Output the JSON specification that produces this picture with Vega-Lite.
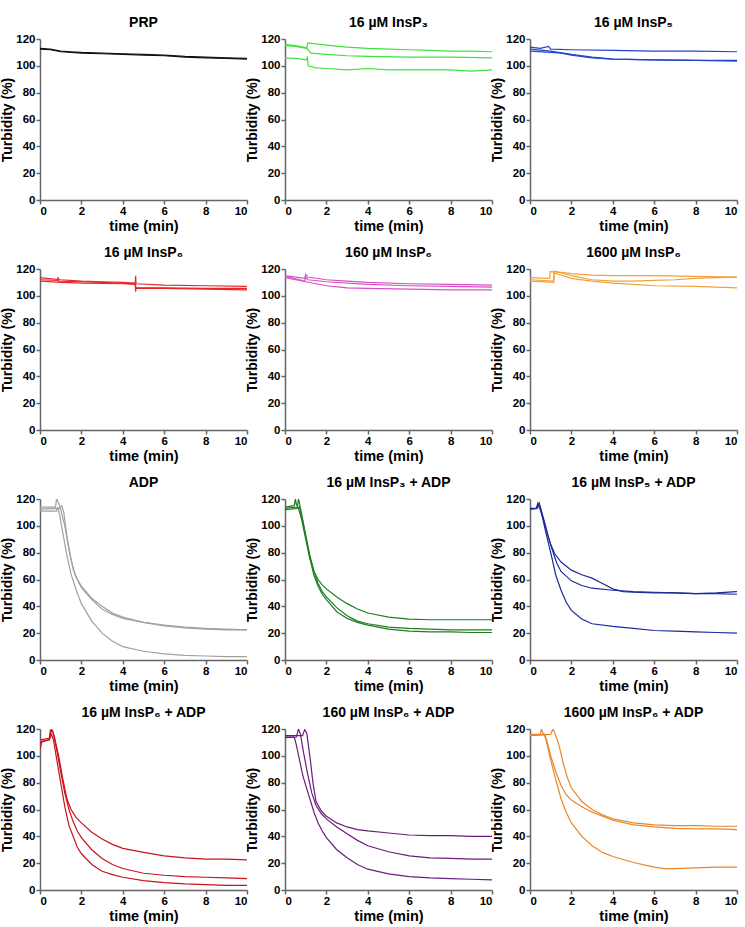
{
"$schema": "https://vega.github.io/schema/vega-lite/v6.json",
"padding": {"left": 0, "top": 16, "right": 5, "bottom": 3},
"bounds": "flush",
"data": {"values": [
{"p":0,"r":1,"t":0,"y":113},{"p":0,"r":1,"t":0.5,"y":112.5},{"p":0,"r":1,"t":1,"y":111},{"p":0,"r":1,"t":1.5,"y":110.5},{"p":0,"r":1,"t":2,"y":110},{"p":0,"r":1,"t":3,"y":109.5},{"p":0,"r":1,"t":4,"y":109},{"p":0,"r":1,"t":5,"y":108.5},{"p":0,"r":1,"t":6,"y":108},{"p":0,"r":1,"t":7,"y":107},{"p":0,"r":1,"t":8,"y":106.5},{"p":0,"r":1,"t":9,"y":106},{"p":0,"r":1,"t":10,"y":105.5},
{"p":0,"r":2,"t":0,"y":112.5},{"p":0,"r":2,"t":0.5,"y":112},{"p":0,"r":2,"t":1,"y":110.5},{"p":0,"r":2,"t":2,"y":109.5},{"p":0,"r":2,"t":3,"y":109},{"p":0,"r":2,"t":4,"y":108.5},{"p":0,"r":2,"t":5,"y":108},{"p":0,"r":2,"t":6,"y":107.5},{"p":0,"r":2,"t":7,"y":106.5},{"p":0,"r":2,"t":8,"y":106},{"p":0,"r":2,"t":9,"y":105.5},{"p":0,"r":2,"t":10,"y":105},

{"p":1,"r":1,"t":0,"y":116},{"p":1,"r":1,"t":0.5,"y":115},{"p":1,"r":1,"t":1.05,"y":113.5},{"p":1,"r":1,"t":1.1,"y":117},{"p":1,"r":1,"t":2,"y":115.5},{"p":1,"r":1,"t":3,"y":114},{"p":1,"r":1,"t":4,"y":113},{"p":1,"r":1,"t":5,"y":112.5},{"p":1,"r":1,"t":6,"y":112},{"p":1,"r":1,"t":7,"y":111.5},{"p":1,"r":1,"t":8,"y":111},{"p":1,"r":1,"t":9,"y":111},{"p":1,"r":1,"t":10,"y":110.5},
{"p":1,"r":2,"t":0,"y":115},{"p":1,"r":2,"t":0.5,"y":114.5},{"p":1,"r":2,"t":1.05,"y":113},{"p":1,"r":2,"t":1.25,"y":109.5},{"p":1,"r":2,"t":2,"y":108.5},{"p":1,"r":2,"t":3,"y":107.5},{"p":1,"r":2,"t":4,"y":107},{"p":1,"r":2,"t":6,"y":106.5},{"p":1,"r":2,"t":8,"y":106.5},{"p":1,"r":2,"t":10,"y":106},
{"p":1,"r":3,"t":0,"y":106},{"p":1,"r":3,"t":0.5,"y":105.5},{"p":1,"r":3,"t":1.05,"y":104.5},{"p":1,"r":3,"t":1.08,"y":107},{"p":1,"r":3,"t":1.12,"y":100},{"p":1,"r":3,"t":1.5,"y":98.5},{"p":1,"r":3,"t":2,"y":98},{"p":1,"r":3,"t":3,"y":97},{"p":1,"r":3,"t":4,"y":98},{"p":1,"r":3,"t":5,"y":97},{"p":1,"r":3,"t":6,"y":97},{"p":1,"r":3,"t":7,"y":97},{"p":1,"r":3,"t":8,"y":97},{"p":1,"r":3,"t":9,"y":96},{"p":1,"r":3,"t":10,"y":97},

{"p":2,"r":1,"t":0,"y":114},{"p":2,"r":1,"t":0.5,"y":113},{"p":2,"r":1,"t":0.9,"y":114.5},{"p":2,"r":1,"t":1,"y":112.5},{"p":2,"r":1,"t":2,"y":112},{"p":2,"r":1,"t":4,"y":111.5},{"p":2,"r":1,"t":6,"y":111},{"p":2,"r":1,"t":8,"y":111},{"p":2,"r":1,"t":10,"y":110.5},
{"p":2,"r":2,"t":0,"y":112.5},{"p":2,"r":2,"t":1,"y":111},{"p":2,"r":2,"t":2,"y":108.5},{"p":2,"r":2,"t":3,"y":106.5},{"p":2,"r":2,"t":4,"y":105},{"p":2,"r":2,"t":6,"y":104.5},{"p":2,"r":2,"t":8,"y":104},{"p":2,"r":2,"t":10,"y":104},
{"p":2,"r":3,"t":0,"y":111},{"p":2,"r":3,"t":1,"y":110},{"p":2,"r":3,"t":1.5,"y":109.5},{"p":2,"r":3,"t":2,"y":108},{"p":2,"r":3,"t":3,"y":106},{"p":2,"r":3,"t":4,"y":105},{"p":2,"r":3,"t":6,"y":104.5},{"p":2,"r":3,"t":8,"y":104},{"p":2,"r":3,"t":10,"y":103.5},

{"p":3,"r":1,"t":0,"y":113.5},{"p":3,"r":1,"t":1,"y":112},{"p":3,"r":1,"t":2,"y":111},{"p":3,"r":1,"t":3,"y":110.5},{"p":3,"r":1,"t":4,"y":110},{"p":3,"r":1,"t":4.6,"y":109.5},{"p":3,"r":1,"t":4.62,"y":115},{"p":3,"r":1,"t":4.64,"y":109},{"p":3,"r":1,"t":6,"y":108},{"p":3,"r":1,"t":8,"y":107.5},{"p":3,"r":1,"t":10,"y":107},
{"p":3,"r":2,"t":0,"y":112},{"p":3,"r":2,"t":0.85,"y":111.5},{"p":3,"r":2,"t":0.87,"y":114},{"p":3,"r":2,"t":0.9,"y":111},{"p":3,"r":2,"t":2,"y":110.5},{"p":3,"r":2,"t":4,"y":109.5},{"p":3,"r":2,"t":4.6,"y":109},{"p":3,"r":2,"t":4.62,"y":103},{"p":3,"r":2,"t":4.64,"y":106},{"p":3,"r":2,"t":6,"y":106},{"p":3,"r":2,"t":8,"y":105.5},{"p":3,"r":2,"t":10,"y":105.5},
{"p":3,"r":3,"t":0,"y":111},{"p":3,"r":3,"t":1,"y":110},{"p":3,"r":3,"t":2,"y":109.5},{"p":3,"r":3,"t":4,"y":109},{"p":3,"r":3,"t":4.6,"y":108.5},{"p":3,"r":3,"t":4.65,"y":105.5},{"p":3,"r":3,"t":6,"y":105.5},{"p":3,"r":3,"t":8,"y":105},{"p":3,"r":3,"t":10,"y":104.5},

{"p":4,"r":1,"t":0,"y":115},{"p":4,"r":1,"t":0.95,"y":113},{"p":4,"r":1,"t":1,"y":116},{"p":4,"r":1,"t":1.1,"y":114},{"p":4,"r":1,"t":2,"y":112},{"p":4,"r":1,"t":3,"y":111},{"p":4,"r":1,"t":4,"y":110},{"p":4,"r":1,"t":6,"y":109},{"p":4,"r":1,"t":8,"y":108.5},{"p":4,"r":1,"t":10,"y":108},
{"p":4,"r":2,"t":0,"y":114.5},{"p":4,"r":2,"t":0.95,"y":111},{"p":4,"r":2,"t":1,"y":114},{"p":4,"r":2,"t":1.1,"y":112},{"p":4,"r":2,"t":2,"y":110.5},{"p":4,"r":2,"t":4,"y":108.5},{"p":4,"r":2,"t":6,"y":107.5},{"p":4,"r":2,"t":8,"y":107},{"p":4,"r":2,"t":10,"y":106.5},
{"p":4,"r":3,"t":0,"y":113.5},{"p":4,"r":3,"t":1,"y":110.5},{"p":4,"r":3,"t":2,"y":107.5},{"p":4,"r":3,"t":3,"y":106},{"p":4,"r":3,"t":4,"y":105.5},{"p":4,"r":3,"t":6,"y":105},{"p":4,"r":3,"t":8,"y":104.5},{"p":4,"r":3,"t":10,"y":104.5},

{"p":5,"r":1,"t":0,"y":113.5},{"p":5,"r":1,"t":0.95,"y":113},{"p":5,"r":1,"t":0.97,"y":118},{"p":5,"r":1,"t":1.5,"y":117.5},{"p":5,"r":1,"t":2,"y":116.5},{"p":5,"r":1,"t":3,"y":115.5},{"p":5,"r":1,"t":4,"y":115},{"p":5,"r":1,"t":6,"y":115},{"p":5,"r":1,"t":8,"y":114.5},{"p":5,"r":1,"t":10,"y":114},
{"p":5,"r":2,"t":0,"y":112},{"p":5,"r":2,"t":1.15,"y":111},{"p":5,"r":2,"t":1.17,"y":118.5},{"p":5,"r":2,"t":2,"y":115},{"p":5,"r":2,"t":3,"y":112},{"p":5,"r":2,"t":4,"y":111},{"p":5,"r":2,"t":5,"y":111},{"p":5,"r":2,"t":6,"y":111.5},{"p":5,"r":2,"t":7,"y":112},{"p":5,"r":2,"t":8,"y":113},{"p":5,"r":2,"t":9,"y":113.5},{"p":5,"r":2,"t":10,"y":114},
{"p":5,"r":3,"t":0,"y":111},{"p":5,"r":3,"t":1.15,"y":110},{"p":5,"r":3,"t":1.17,"y":117},{"p":5,"r":3,"t":2,"y":113},{"p":5,"r":3,"t":3,"y":111},{"p":5,"r":3,"t":4,"y":109.5},{"p":5,"r":3,"t":5,"y":108.5},{"p":5,"r":3,"t":6,"y":107.5},{"p":5,"r":3,"t":8,"y":107},{"p":5,"r":3,"t":10,"y":106},

{"p":6,"r":1,"t":0,"y":114},{"p":6,"r":1,"t":0.75,"y":114},{"p":6,"r":1,"t":0.8,"y":120},{"p":6,"r":1,"t":0.9,"y":117},{"p":6,"r":1,"t":1,"y":112},{"p":6,"r":1,"t":1.2,"y":100},{"p":6,"r":1,"t":1.4,"y":82},{"p":6,"r":1,"t":1.6,"y":68},{"p":6,"r":1,"t":1.8,"y":60},{"p":6,"r":1,"t":2,"y":54},{"p":6,"r":1,"t":2.5,"y":45},{"p":6,"r":1,"t":3,"y":38},{"p":6,"r":1,"t":3.5,"y":34},{"p":6,"r":1,"t":4,"y":31},{"p":6,"r":1,"t":5,"y":28},{"p":6,"r":1,"t":6,"y":26},{"p":6,"r":1,"t":7,"y":24.5},{"p":6,"r":1,"t":8,"y":23.5},{"p":6,"r":1,"t":9,"y":23},{"p":6,"r":1,"t":10,"y":22.5},
{"p":6,"r":2,"t":0,"y":112.5},{"p":6,"r":2,"t":0.95,"y":113},{"p":6,"r":2,"t":1.05,"y":115},{"p":6,"r":2,"t":1.15,"y":110},{"p":6,"r":2,"t":1.3,"y":92},{"p":6,"r":2,"t":1.5,"y":75},{"p":6,"r":2,"t":1.7,"y":63},{"p":6,"r":2,"t":2,"y":55},{"p":6,"r":2,"t":2.5,"y":46},{"p":6,"r":2,"t":3,"y":40},{"p":6,"r":2,"t":3.5,"y":35},{"p":6,"r":2,"t":4,"y":32},{"p":6,"r":2,"t":5,"y":28},{"p":6,"r":2,"t":6,"y":25.5},{"p":6,"r":2,"t":7,"y":24},{"p":6,"r":2,"t":8,"y":23},{"p":6,"r":2,"t":9,"y":22.5},{"p":6,"r":2,"t":10,"y":22.5},
{"p":6,"r":3,"t":0,"y":111},{"p":6,"r":3,"t":0.8,"y":111},{"p":6,"r":3,"t":0.85,"y":114},{"p":6,"r":3,"t":0.95,"y":108},{"p":6,"r":3,"t":1.1,"y":95},{"p":6,"r":3,"t":1.3,"y":78},{"p":6,"r":3,"t":1.5,"y":64},{"p":6,"r":3,"t":1.75,"y":52},{"p":6,"r":3,"t":2,"y":42},{"p":6,"r":3,"t":2.5,"y":29},{"p":6,"r":3,"t":3,"y":20},{"p":6,"r":3,"t":3.5,"y":14},{"p":6,"r":3,"t":4,"y":10},{"p":6,"r":3,"t":5,"y":6.5},{"p":6,"r":3,"t":6,"y":4.5},{"p":6,"r":3,"t":7,"y":3.5},{"p":6,"r":3,"t":8,"y":3},{"p":6,"r":3,"t":9,"y":2.5},{"p":6,"r":3,"t":10,"y":2.5},

{"p":7,"r":1,"t":0,"y":114},{"p":7,"r":1,"t":0.45,"y":115},{"p":7,"r":1,"t":0.5,"y":120},{"p":7,"r":1,"t":0.55,"y":116},{"p":7,"r":1,"t":0.65,"y":113},{"p":7,"r":1,"t":0.8,"y":105},{"p":7,"r":1,"t":1,"y":90},{"p":7,"r":1,"t":1.2,"y":76},{"p":7,"r":1,"t":1.4,"y":66},{"p":7,"r":1,"t":1.6,"y":60},{"p":7,"r":1,"t":1.8,"y":56},{"p":7,"r":1,"t":2,"y":53},{"p":7,"r":1,"t":2.5,"y":47},{"p":7,"r":1,"t":3,"y":42},{"p":7,"r":1,"t":3.5,"y":38},{"p":7,"r":1,"t":4,"y":35},{"p":7,"r":1,"t":5,"y":32},{"p":7,"r":1,"t":6,"y":30.5},{"p":7,"r":1,"t":7,"y":30},{"p":7,"r":1,"t":8,"y":30},{"p":7,"r":1,"t":9,"y":30},{"p":7,"r":1,"t":10,"y":30},
{"p":7,"r":2,"t":0,"y":113},{"p":7,"r":2,"t":0.6,"y":114},{"p":7,"r":2,"t":0.65,"y":120},{"p":7,"r":2,"t":0.7,"y":117},{"p":7,"r":2,"t":0.85,"y":105},{"p":7,"r":2,"t":1,"y":93},{"p":7,"r":2,"t":1.2,"y":78},{"p":7,"r":2,"t":1.4,"y":66},{"p":7,"r":2,"t":1.6,"y":57},{"p":7,"r":2,"t":1.8,"y":51},{"p":7,"r":2,"t":2,"y":47},{"p":7,"r":2,"t":2.5,"y":39},{"p":7,"r":2,"t":3,"y":33},{"p":7,"r":2,"t":3.5,"y":29},{"p":7,"r":2,"t":4,"y":27},{"p":7,"r":2,"t":5,"y":24.5},{"p":7,"r":2,"t":6,"y":23.5},{"p":7,"r":2,"t":7,"y":23},{"p":7,"r":2,"t":8,"y":22.5},{"p":7,"r":2,"t":9,"y":22.5},{"p":7,"r":2,"t":10,"y":22.5},
{"p":7,"r":3,"t":0,"y":112},{"p":7,"r":3,"t":0.6,"y":113},{"p":7,"r":3,"t":0.7,"y":114},{"p":7,"r":3,"t":0.85,"y":104},{"p":7,"r":3,"t":1,"y":92},{"p":7,"r":3,"t":1.2,"y":76},{"p":7,"r":3,"t":1.4,"y":63},{"p":7,"r":3,"t":1.6,"y":55},{"p":7,"r":3,"t":1.8,"y":49},{"p":7,"r":3,"t":2,"y":45},{"p":7,"r":3,"t":2.5,"y":36},{"p":7,"r":3,"t":3,"y":31},{"p":7,"r":3,"t":3.5,"y":28},{"p":7,"r":3,"t":4,"y":26},{"p":7,"r":3,"t":5,"y":23},{"p":7,"r":3,"t":6,"y":21.5},{"p":7,"r":3,"t":7,"y":21},{"p":7,"r":3,"t":8,"y":21},{"p":7,"r":3,"t":9,"y":20.5},{"p":7,"r":3,"t":10,"y":20.5},

{"p":8,"r":1,"t":0,"y":113},{"p":8,"r":1,"t":0.3,"y":113},{"p":8,"r":1,"t":0.38,"y":117},{"p":8,"r":1,"t":0.45,"y":114},{"p":8,"r":1,"t":0.6,"y":107},{"p":8,"r":1,"t":0.8,"y":96},{"p":8,"r":1,"t":1,"y":86},{"p":8,"r":1,"t":1.2,"y":79},{"p":8,"r":1,"t":1.5,"y":73},{"p":8,"r":1,"t":2,"y":67},{"p":8,"r":1,"t":2.5,"y":63.5},{"p":8,"r":1,"t":3,"y":61},{"p":8,"r":1,"t":3.5,"y":57},{"p":8,"r":1,"t":4,"y":53},{"p":8,"r":1,"t":4.5,"y":51},{"p":8,"r":1,"t":5,"y":50.5},{"p":8,"r":1,"t":6,"y":50},{"p":8,"r":1,"t":7,"y":50},{"p":8,"r":1,"t":8,"y":49.5},{"p":8,"r":1,"t":9,"y":50},{"p":8,"r":1,"t":10,"y":51},
{"p":8,"r":2,"t":0,"y":112.5},{"p":8,"r":2,"t":0.3,"y":113},{"p":8,"r":2,"t":0.42,"y":116},{"p":8,"r":2,"t":0.5,"y":114},{"p":8,"r":2,"t":0.7,"y":103},{"p":8,"r":2,"t":0.9,"y":91},{"p":8,"r":2,"t":1.1,"y":81},{"p":8,"r":2,"t":1.3,"y":72},{"p":8,"r":2,"t":1.5,"y":66},{"p":8,"r":2,"t":2,"y":59},{"p":8,"r":2,"t":2.5,"y":55.5},{"p":8,"r":2,"t":3,"y":53.5},{"p":8,"r":2,"t":4,"y":52},{"p":8,"r":2,"t":5,"y":51},{"p":8,"r":2,"t":6,"y":50.5},{"p":8,"r":2,"t":7,"y":50},{"p":8,"r":2,"t":8,"y":49.5},{"p":8,"r":2,"t":9,"y":49.5},{"p":8,"r":2,"t":10,"y":49},
{"p":8,"r":3,"t":0,"y":112.5},{"p":8,"r":3,"t":0.35,"y":113},{"p":8,"r":3,"t":0.45,"y":117},{"p":8,"r":3,"t":0.55,"y":110},{"p":8,"r":3,"t":0.75,"y":96},{"p":8,"r":3,"t":1,"y":80},{"p":8,"r":3,"t":1.25,"y":63},{"p":8,"r":3,"t":1.5,"y":52},{"p":8,"r":3,"t":1.75,"y":43},{"p":8,"r":3,"t":2,"y":37},{"p":8,"r":3,"t":2.5,"y":30.5},{"p":8,"r":3,"t":3,"y":27},{"p":8,"r":3,"t":4,"y":25},{"p":8,"r":3,"t":5,"y":23.5},{"p":8,"r":3,"t":6,"y":22},{"p":8,"r":3,"t":7,"y":21.5},{"p":8,"r":3,"t":8,"y":21},{"p":8,"r":3,"t":9,"y":20.5},{"p":8,"r":3,"t":10,"y":20},

{"p":9,"r":1,"t":0,"y":112},{"p":9,"r":1,"t":0.45,"y":113},{"p":9,"r":1,"t":0.5,"y":119},{"p":9,"r":1,"t":0.6,"y":119},{"p":9,"r":1,"t":0.7,"y":114},{"p":9,"r":1,"t":0.9,"y":100},{"p":9,"r":1,"t":1.1,"y":83},{"p":9,"r":1,"t":1.3,"y":68},{"p":9,"r":1,"t":1.5,"y":60},{"p":9,"r":1,"t":1.75,"y":54},{"p":9,"r":1,"t":2,"y":50},{"p":9,"r":1,"t":2.5,"y":43},{"p":9,"r":1,"t":3,"y":38},{"p":9,"r":1,"t":3.5,"y":34},{"p":9,"r":1,"t":4,"y":31},{"p":9,"r":1,"t":5,"y":28},{"p":9,"r":1,"t":6,"y":25.5},{"p":9,"r":1,"t":7,"y":24},{"p":9,"r":1,"t":8,"y":23},{"p":9,"r":1,"t":9,"y":23},{"p":9,"r":1,"t":10,"y":22.5},
{"p":9,"r":2,"t":0,"y":110},{"p":9,"r":2,"t":0.45,"y":112},{"p":9,"r":2,"t":0.55,"y":120},{"p":9,"r":2,"t":0.65,"y":116},{"p":9,"r":2,"t":0.8,"y":105},{"p":9,"r":2,"t":1,"y":88},{"p":9,"r":2,"t":1.2,"y":72},{"p":9,"r":2,"t":1.4,"y":60},{"p":9,"r":2,"t":1.6,"y":51},{"p":9,"r":2,"t":1.8,"y":44},{"p":9,"r":2,"t":2,"y":39},{"p":9,"r":2,"t":2.5,"y":30},{"p":9,"r":2,"t":3,"y":23.5},{"p":9,"r":2,"t":3.5,"y":19},{"p":9,"r":2,"t":4,"y":16},{"p":9,"r":2,"t":5,"y":12.5},{"p":9,"r":2,"t":6,"y":11},{"p":9,"r":2,"t":7,"y":10},{"p":9,"r":2,"t":8,"y":9.5},{"p":9,"r":2,"t":9,"y":9},{"p":9,"r":2,"t":10,"y":8.5},
{"p":9,"r":3,"t":0,"y":105},{"p":9,"r":3,"t":0.1,"y":111},{"p":9,"r":3,"t":0.45,"y":112},{"p":9,"r":3,"t":0.55,"y":116},{"p":9,"r":3,"t":0.65,"y":112},{"p":9,"r":3,"t":0.8,"y":98},{"p":9,"r":3,"t":1,"y":80},{"p":9,"r":3,"t":1.2,"y":62},{"p":9,"r":3,"t":1.4,"y":48},{"p":9,"r":3,"t":1.6,"y":40},{"p":9,"r":3,"t":1.8,"y":32},{"p":9,"r":3,"t":2,"y":27},{"p":9,"r":3,"t":2.5,"y":19},{"p":9,"r":3,"t":3,"y":14},{"p":9,"r":3,"t":3.5,"y":11.5},{"p":9,"r":3,"t":4,"y":9.5},{"p":9,"r":3,"t":5,"y":7},{"p":9,"r":3,"t":6,"y":5.5},{"p":9,"r":3,"t":7,"y":4.5},{"p":9,"r":3,"t":8,"y":4},{"p":9,"r":3,"t":9,"y":3.5},{"p":9,"r":3,"t":10,"y":3.5},

{"p":10,"r":1,"t":0,"y":115},{"p":10,"r":1,"t":0.85,"y":115},{"p":10,"r":1,"t":0.95,"y":119.5},{"p":10,"r":1,"t":1.05,"y":117},{"p":10,"r":1,"t":1.2,"y":100},{"p":10,"r":1,"t":1.35,"y":80},{"p":10,"r":1,"t":1.5,"y":66},{"p":10,"r":1,"t":1.75,"y":59},{"p":10,"r":1,"t":2,"y":55},{"p":10,"r":1,"t":2.5,"y":50},{"p":10,"r":1,"t":3,"y":47},{"p":10,"r":1,"t":3.5,"y":45},{"p":10,"r":1,"t":4,"y":44},{"p":10,"r":1,"t":5,"y":42.5},{"p":10,"r":1,"t":6,"y":41},{"p":10,"r":1,"t":7,"y":40.5},{"p":10,"r":1,"t":8,"y":40.5},{"p":10,"r":1,"t":9,"y":40},{"p":10,"r":1,"t":10,"y":40},
{"p":10,"r":2,"t":0,"y":113.5},{"p":10,"r":2,"t":0.55,"y":114},{"p":10,"r":2,"t":0.65,"y":120},{"p":10,"r":2,"t":0.75,"y":116},{"p":10,"r":2,"t":0.9,"y":102},{"p":10,"r":2,"t":1.1,"y":86},{"p":10,"r":2,"t":1.3,"y":72},{"p":10,"r":2,"t":1.5,"y":63},{"p":10,"r":2,"t":1.75,"y":57},{"p":10,"r":2,"t":2,"y":53},{"p":10,"r":2,"t":2.5,"y":47},{"p":10,"r":2,"t":3,"y":42},{"p":10,"r":2,"t":3.5,"y":37},{"p":10,"r":2,"t":4,"y":33},{"p":10,"r":2,"t":5,"y":28.5},{"p":10,"r":2,"t":6,"y":25.5},{"p":10,"r":2,"t":7,"y":24},{"p":10,"r":2,"t":8,"y":23.5},{"p":10,"r":2,"t":9,"y":23},{"p":10,"r":2,"t":10,"y":23},
{"p":10,"r":3,"t":0,"y":114},{"p":10,"r":3,"t":0.45,"y":114},{"p":10,"r":3,"t":0.55,"y":108},{"p":10,"r":3,"t":0.7,"y":97},{"p":10,"r":3,"t":0.85,"y":86},{"p":10,"r":3,"t":1,"y":78},{"p":10,"r":3,"t":1.2,"y":68},{"p":10,"r":3,"t":1.4,"y":58},{"p":10,"r":3,"t":1.6,"y":50},{"p":10,"r":3,"t":1.8,"y":44},{"p":10,"r":3,"t":2,"y":39},{"p":10,"r":3,"t":2.5,"y":30},{"p":10,"r":3,"t":3,"y":24},{"p":10,"r":3,"t":3.5,"y":19},{"p":10,"r":3,"t":4,"y":15.5},{"p":10,"r":3,"t":5,"y":12},{"p":10,"r":3,"t":6,"y":10},{"p":10,"r":3,"t":7,"y":9},{"p":10,"r":3,"t":8,"y":8.5},{"p":10,"r":3,"t":9,"y":8},{"p":10,"r":3,"t":10,"y":7.5},

{"p":11,"r":1,"t":0,"y":115},{"p":11,"r":1,"t":1,"y":116},{"p":11,"r":1,"t":1.1,"y":120},{"p":11,"r":1,"t":1.2,"y":117},{"p":11,"r":1,"t":1.4,"y":108},{"p":11,"r":1,"t":1.6,"y":95},{"p":11,"r":1,"t":1.8,"y":84},{"p":11,"r":1,"t":2,"y":76},{"p":11,"r":1,"t":2.5,"y":66},{"p":11,"r":1,"t":3,"y":60},{"p":11,"r":1,"t":3.5,"y":56},{"p":11,"r":1,"t":4,"y":53},{"p":11,"r":1,"t":5,"y":50},{"p":11,"r":1,"t":6,"y":48.5},{"p":11,"r":1,"t":7,"y":48},{"p":11,"r":1,"t":8,"y":48},{"p":11,"r":1,"t":9,"y":47.5},{"p":11,"r":1,"t":10,"y":47.5},
{"p":11,"r":2,"t":0,"y":116},{"p":11,"r":2,"t":0.5,"y":116},{"p":11,"r":2,"t":0.55,"y":120},{"p":11,"r":2,"t":0.62,"y":117},{"p":11,"r":2,"t":0.7,"y":116},{"p":11,"r":2,"t":0.8,"y":112},{"p":11,"r":2,"t":1,"y":100},{"p":11,"r":2,"t":1.25,"y":88},{"p":11,"r":2,"t":1.5,"y":78},{"p":11,"r":2,"t":1.75,"y":71},{"p":11,"r":2,"t":2,"y":67},{"p":11,"r":2,"t":2.5,"y":62},{"p":11,"r":2,"t":3,"y":58},{"p":11,"r":2,"t":3.5,"y":55},{"p":11,"r":2,"t":4,"y":52},{"p":11,"r":2,"t":5,"y":48.5},{"p":11,"r":2,"t":6,"y":47},{"p":11,"r":2,"t":7,"y":46},{"p":11,"r":2,"t":8,"y":45.5},{"p":11,"r":2,"t":9,"y":45.5},{"p":11,"r":2,"t":10,"y":45},
{"p":11,"r":3,"t":0,"y":115},{"p":11,"r":3,"t":0.7,"y":116},{"p":11,"r":3,"t":0.8,"y":110},{"p":11,"r":3,"t":1,"y":97},{"p":11,"r":3,"t":1.25,"y":82},{"p":11,"r":3,"t":1.5,"y":68},{"p":11,"r":3,"t":1.75,"y":58},{"p":11,"r":3,"t":2,"y":50},{"p":11,"r":3,"t":2.5,"y":40},{"p":11,"r":3,"t":3,"y":33},{"p":11,"r":3,"t":3.5,"y":28},{"p":11,"r":3,"t":4,"y":25},{"p":11,"r":3,"t":5,"y":20.5},{"p":11,"r":3,"t":6,"y":17},{"p":11,"r":3,"t":6.5,"y":16},{"p":11,"r":3,"t":7,"y":16},{"p":11,"r":3,"t":8,"y":16.5},{"p":11,"r":3,"t":9,"y":17},{"p":11,"r":3,"t":10,"y":17}
]},
"facet": {"field": "p", "type": "ordinal", "sort": "ascending",
  "header": {"title": null, "labelExpr": "['PRP','16 µM InsP₃','16 µM InsP₅','16 µM InsP₆','160 µM InsP₆','1600 µM InsP₆','ADP','16 µM InsP₃ + ADP','16 µM InsP₅ + ADP','16 µM InsP₆ + ADP','160 µM InsP₆ + ADP','1600 µM InsP₆ + ADP'][datum.value]",
    "labelFont": "Liberation Sans", "labelFontSize": 14, "labelFontWeight": "bold", "labelColor": "#000", "labelPadding": 3}},
"columns": 3,
"spacing": {"row": 69, "column": 38},
"resolve": {"axis": {"x": "independent", "y": "independent"}},
"spec": {
  "width": 207, "height": 161,
  "mark": {"type": "line", "strokeWidth": 1.2, "clip": true},
  "encoding": {
    "x": {"field": "t", "type": "quantitative", "scale": {"domain": [0, 10], "nice": false}, "axis": {"values": [0,2,4,6,8,10], "title": "time (min)", "titlePadding": 3, "titleFontSize": 14.5}},
    "y": {"field": "y", "type": "quantitative", "scale": {"domain": [0, 120], "nice": false}, "axis": {"values": [0,20,40,60,80,100,120], "title": "Turbidity (%)"}},
    "color": {"field": "p", "type": "nominal", "legend": null, "scale": {"domain": [0,1,2,3,4,5,6,7,8,9,10,11], "range": ["#111111","#3fe03f","#2244cc","#e8262a","#d94fc6","#f2a13a","#a0a0a0","#1e7d1e","#1c2a9c","#c8141e","#6b1d7e","#e8872a"]}},
    "detail": {"field": "r", "type": "nominal"}
  }
},
"config": {
  "font": "Liberation Sans",
  "view": {"stroke": null},
  "axis": {"grid": false, "domainColor": "#666", "tickColor": "#666", "domainWidth": 1.5, "tickWidth": 1.5, "tickSize": 4,
    "labelFont": "Liberation Sans", "labelFontSize": 11.5, "labelFontWeight": "bold", "labelColor": "#000", "labelPadding": 1,
    "titleFont": "Liberation Sans", "titleFontSize": 14, "titleFontWeight": "bold", "titleColor": "#000", "titlePadding": 1}
}
}
